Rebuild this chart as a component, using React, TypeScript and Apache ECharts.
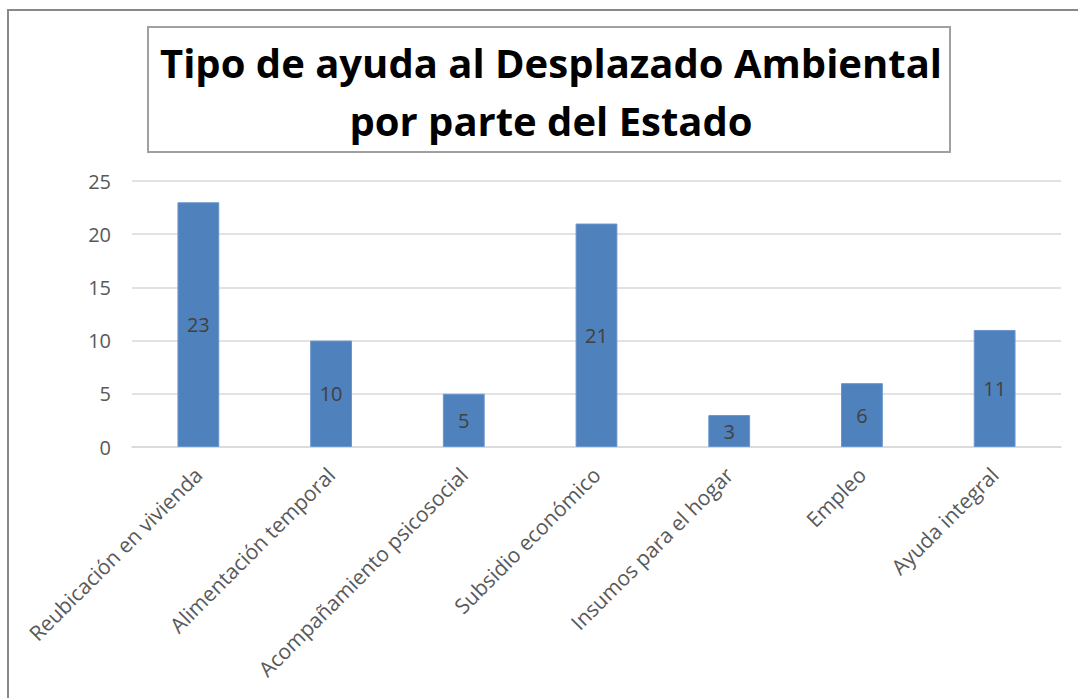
import React, { useEffect, useRef } from "react";
import * as echarts from "echarts";

const categories = [
  "Reubicación en vivienda",
  "Alimentación temporal",
  "Acompañamiento psicosocial",
  "Subsidio económico",
  "Insumos para el hogar",
  "Empleo",
  "Ayuda integral",
];
const values = [23, 10, 5, 21, 3, 6, 11];
const titleLines = ["Tipo de ayuda al Desplazado Ambiental", "por parte del Estado"];

export default function App() {
  const ref = useRef<HTMLDivElement>(null);
  useEffect(() => {
    if (!ref.current) return;
    const chart = echarts.init(ref.current, undefined, { renderer: "svg" });
    const font = "'Open Sans', 'Noto Sans', sans-serif";
    chart.setOption({
      animation: false,
      backgroundColor: "#ffffff",
      textStyle: { fontFamily: font },
      graphic: [
        {
          type: "rect",
          shape: { x: 8, y: 10, width: 1090, height: 720 },
          style: { fill: "none", stroke: "#898989", lineWidth: 2 },
          silent: true,
        },
        {
          type: "rect",
          shape: { x: 148, y: 27, width: 802, height: 125 },
          style: { fill: "#ffffff", stroke: "#a0a0a0", lineWidth: 2 },
          silent: true,
        },
        {
          type: "text",
          x: 551,
          y: 91,
          style: {
            text: titleLines.join("\n"),
            font: `bold 40px ${font}`,
            fill: "#000000",
            align: "center",
            verticalAlign: "middle",
            lineHeight: 58,
          },
          silent: true,
        },
      ],
      grid: { left: 132, right: 17, top: 181, bottom: 251, containLabel: false },
      xAxis: {
        type: "category",
        data: categories,
        axisLine: { show: true, lineStyle: { color: "#d9d9d9", width: 1.5 } },
        axisTick: { show: false },
        axisLabel: {
          rotate: 45,
          interval: 0,
          margin: 24,
          color: "#595959",
          fontSize: 21,
          fontFamily: font,
        },
      },
      yAxis: {
        type: "value",
        min: 0,
        max: 25,
        interval: 5,
        axisLine: { show: false },
        axisTick: { show: false },
        splitLine: { lineStyle: { color: "#d9d9d9", width: 1.5 } },
        axisLabel: { color: "#595959", fontSize: 20, margin: 21, fontFamily: font },
      },
      series: [
        {
          type: "bar",
          data: values,
          barWidth: "31.5%",
          itemStyle: { color: "#4f81bd", borderColor: "#6a96cc", borderWidth: 1 },
          label: {
            show: true,
            position: "inside",
            color: "#404040",
            fontSize: 20,
            fontFamily: font,
          },
        },
      ],
    });
    return () => chart.dispose();
  }, []);
  return (
    <div
      ref={ref}
      style={{ position: "fixed", left: 0, top: 0, width: 1078, height: 698 }}
    />
  );
}
